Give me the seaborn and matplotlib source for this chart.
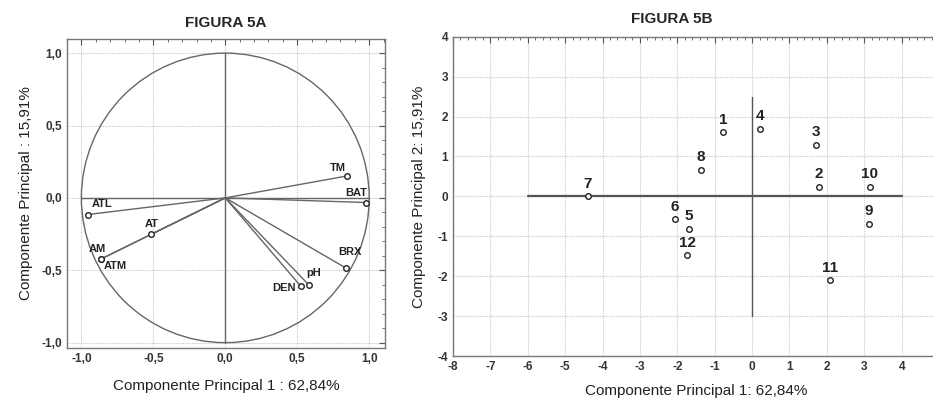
import numpy as np
import matplotlib
matplotlib.use("Agg")
import matplotlib.pyplot as plt
from matplotlib.patches import Circle
from matplotlib.ticker import MultipleLocator, FuncFormatter
import seaborn as sns

# loadings (figura 5A)
var_names = ['TM', 'BAT', 'BRX', 'pH', 'DEN', 'ATL', 'AT', 'AM', 'ATM']
pc1_load = [0.849, 0.976, 0.837, 0.583, 0.525, -0.955, -0.513, -0.867, -0.867]
pc2_load = [0.152, -0.032, -0.484, -0.604, -0.611, -0.115, -0.251, -0.424, -0.424]
# label offsets (points) relative to each marker
var_offsets = [(-1, 2), (1, 3), (3, 8), (-2, 5), (-4, -1), (3, 4), (0, 4), (-2, 4), (2, -1)]
var_align = [('right', 'bottom'), ('right', 'bottom'), ('center', 'bottom'), ('left', 'bottom'),
             ('right', 'center'), ('left', 'bottom'), ('center', 'bottom'), ('center', 'bottom'),
             ('left', 'top')]

# scores (figura 5B)
samples = ['1', '2', '3', '4', '5', '6', '7', '8', '9', '10', '11', '12']
pc1_score = [-0.78, 1.79, 1.71, 0.20, -1.69, -2.06, -4.40, -1.38, 3.12, 3.15, 2.09, -1.73]
pc2_score = [1.61, 0.24, 1.29, 1.69, -0.81, -0.58, 0.00, 0.66, -0.69, 0.24, -2.10, -1.48]

sns.set_style("white")
plt.rcParams['font.family'] = ['Liberation Sans', 'DejaVu Sans']

fig = plt.figure(figsize=(9.33, 4.03), dpi=100)
ax1 = fig.add_axes([0.0718, 0.1365, 0.3409, 0.7665])
ax2 = fig.add_axes([0.4855, 0.1166, 0.5210, 0.7924])

grid_col = '#c8c8c8'
edge_col = '#777777'


def comma_fmt(v, pos):
    return f'{v:.1f}'.replace('.', ',')


def style_axes(ax):
    for s in ax.spines.values():
        s.set_color(edge_col)
        s.set_linewidth(1.0)
    ax.tick_params(which='both', direction='in', top=True, right=True,
                   colors='#555555', labelcolor='#333333', labelsize=8.5)
    ax.tick_params(which='major', length=4)
    ax.tick_params(which='minor', length=2)
    ax.grid(True, which='major', color=grid_col, linewidth=0.8, linestyle=(0, (1, 1)))
    ax.set_axisbelow(True)
    for lab in ax.get_xticklabels() + ax.get_yticklabels():
        lab.set_fontweight('bold')


# ---- Figura 5A ----
ax1.set_xlim(-1.1, 1.11)
ax1.set_ylim(-1.037, 1.097)
ax1.xaxis.set_major_locator(MultipleLocator(0.5))
ax1.yaxis.set_major_locator(MultipleLocator(0.5))
ax1.xaxis.set_minor_locator(MultipleLocator(0.1))
ax1.yaxis.set_minor_locator(MultipleLocator(0.1))
ax1.xaxis.set_major_formatter(FuncFormatter(comma_fmt))
ax1.yaxis.set_major_formatter(FuncFormatter(comma_fmt))
ax1.add_patch(Circle((0, 0), 1.0, fill=False, edgecolor='#666666', linewidth=1.0))
ax1.axhline(0, color='#666666', linewidth=1.0, xmin=0.1 / 2.21, xmax=2.1 / 2.21)
ax1.axvline(0, color='#666666', linewidth=1.0, ymin=0.037 / 2.134, ymax=2.037 / 2.134)
for x, y in zip(pc1_load, pc2_load):
    ax1.plot([0, x], [0, y], color='#666666', linewidth=1.0)
sns.scatterplot(x=pc1_load, y=pc2_load, ax=ax1, marker='o', s=16,
                facecolor='white', edgecolor='#222222', linewidth=1.0, zorder=5)
for name, x, y, off, (ha, va) in zip(var_names, pc1_load, pc2_load, var_offsets, var_align):
    ax1.annotate(name, (x, y), xytext=off, textcoords='offset points', ha=ha, va=va,
                 fontsize=8, fontweight='bold', color='#222222')
ax1.set_title('FIGURA 5A', fontsize=11, fontweight='bold', pad=9)
ax1.set_xlabel('Componente Principal 1 : 62,84%', fontsize=11, color='#222222', labelpad=10)
ax1.set_ylabel('Componente Principal : 15,91%', fontsize=11, color='#222222', labelpad=6)
style_axes(ax1)

# ---- Figura 5B ----
ax2.set_xlim(-8, 5)
ax2.set_ylim(-4, 4)
ax2.xaxis.set_major_locator(MultipleLocator(1))
ax2.yaxis.set_major_locator(MultipleLocator(1))
ax2.xaxis.set_minor_locator(MultipleLocator(0.2))
ax2.yaxis.set_minor_locator(MultipleLocator(0.2))
ax2.xaxis.set_major_formatter(FuncFormatter(lambda v, p: f'{int(round(v))}'))
ax2.yaxis.set_major_formatter(FuncFormatter(lambda v, p: f'{int(round(v))}'))
ax2.plot([-6, 4], [0, 0], color='#555555', linewidth=1.6)
ax2.plot([0, 0], [-3, 2.5], color='#555555', linewidth=1.0)
sns.scatterplot(x=pc1_score, y=pc2_score, ax=ax2, marker='o', s=16,
                facecolor='white', edgecolor='#222222', linewidth=1.0, zorder=5)
for name, x, y in zip(samples, pc1_score, pc2_score):
    ax2.annotate(name, (x, y), xytext=(0, 4), textcoords='offset points', ha='center', va='bottom',
                 fontsize=11, fontweight='bold', color='#222222')
ax2.set_title('FIGURA 5B', fontsize=11, fontweight='bold', pad=10, x=0.45)
ax2.set_xlabel('Componente Principal 1: 62,84%', fontsize=11, color='#222222', labelpad=8)
ax2.set_ylabel('Componente Principal 2: 15,91%', fontsize=11, color='#222222', labelpad=8)
style_axes(ax2)
ax2.spines['right'].set_visible(False)
ax2.xaxis.set_ticks([-8, -7, -6, -5, -4, -3, -2, -1, 0, 1, 2, 3, 4])

fig.savefig('out.png', dpi=100)
